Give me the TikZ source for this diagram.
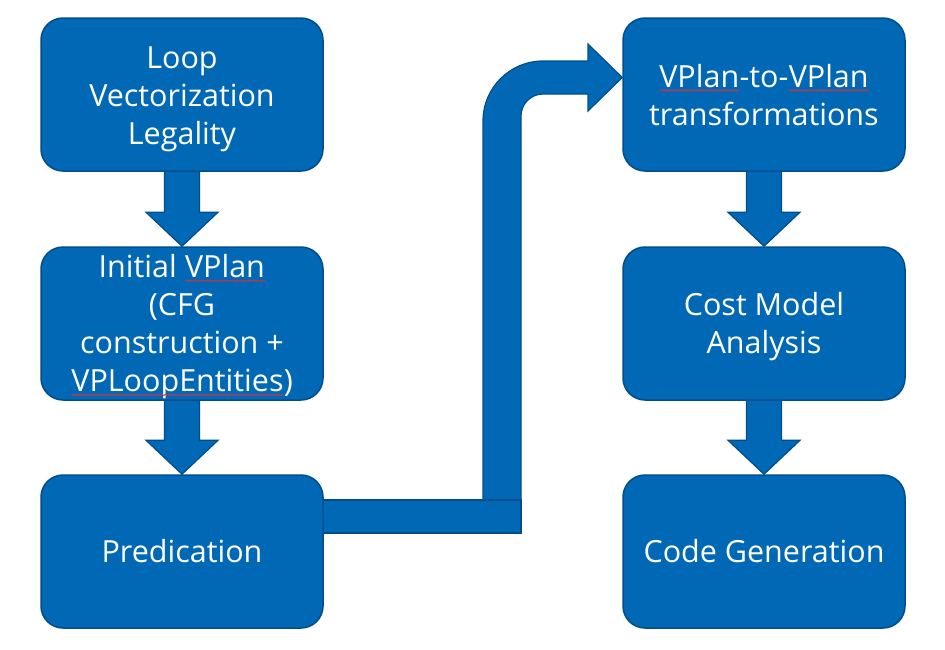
\documentclass[tikz,border=0pt]{standalone}
\usepackage{fontspec}
\setmainfont{Open Sans}
\usetikzlibrary{calc,decorations.pathmorphing,backgrounds}
\definecolor{ifill}{RGB}{0,104,181}
\definecolor{iedge}{RGB}{0,78,140}
\definecolor{squigred}{RGB}{215,50,60}
\tikzset{
 stepbox/.style={draw=iedge, fill=ifill, line width=1.5pt, rounded corners=22pt,
   minimum width=282pt, minimum height=153pt, text=white, align=center,
   font=\fontsize{30.5}{38}\selectfont, inner sep=0pt},
 txt/.style={text=white, align=center, font=\fontsize{30.5}{38}\selectfont, inner sep=0pt,
   draw=none, fill=none},
 blockarrow/.style={draw=iedge, fill=ifill, line width=1.2pt, line join=miter},
 squigword/.style={draw=none, fill=none, minimum width=0pt, minimum height=0pt,
   inner sep=0pt, outer sep=0pt, sharp corners, text=white},
 squigline/.style={draw=squigred, fill=none, sharp corners, line width=0.7pt, decorate,
   decoration={snake, amplitude=0.8pt, segment length=3pt}},
}
\newcommand\squig[1]{\tikz[baseline=(sq.base)]{\node[squigword] (sq) {#1};
  \draw[squigline] ([yshift=-3pt]sq.base west) -- ([yshift=-3pt]sq.base east);}}
\newcommand\blockdown[2]{%
  \draw[blockarrow] ($(#1.south)+(-17.5,2)$) -- ($(#2.north)+(-17.5,34)$) -- ($(#2.north)+(-36,34)$)
    -- (#2.north) -- ($(#2.north)+(36,34)$) -- ($(#2.north)+(17.5,34)$) -- ($(#1.south)+(17.5,2)$) -- cycle;}
\begin{document}
\begin{tikzpicture}[x=1pt,y=1pt]
\useasboundingbox (0,0) rectangle (945,-649);
\node[stepbox, label={[txt,yshift=-4.5pt]center:{Loop\\Vectorization\\Legality}}] (b1) at (182,-94.5) {};
\node[stepbox, label={[txt,yshift=-3.5pt]center:{Initial \squig{VPlan}\\(CFG\\construction +\\\squig{VPLoopEntities})}}] (b2) at (182,-323.5) {};
\node[stepbox] (b3) at (182,-551.5) {Predication};
\node[stepbox, label={[txt,yshift=-0.5pt]center:{\squig{VPlan}-to-\squig{VPlan}\\transformations}}] (b4) at (764,-94.5) {};
\node[stepbox, label={[txt,yshift=-3pt]center:{Cost Model\\Analysis}}] (b5) at (764,-323.5) {};
\node[stepbox] (b6) at (764,-551.5) {Code Generation};
\begin{pgfonlayer}{background}
\fill[white] (0,0) rectangle (945,-649);
\blockdown{b1}{b2}
\blockdown{b2}{b3}
\blockdown{b4}{b5}
\blockdown{b5}{b6}
\coordinate (tip) at ($(b4.west)+(0,17)$);
\draw[blockarrow] (483,-518) -- (483,-121) arc[start angle=180,end angle=90,radius=60]
  -- (588,-61) -- (588,-44) -- (tip) -- (588,-111) -- (588,-94) -- (543,-94)
  arc[start angle=90,end angle=180,radius=22] -- (521,-518) -- cycle;
\draw[blockarrow] ($(b3.east)+(-6,51.5)$) rectangle (521,-533);
\end{pgfonlayer}
\end{tikzpicture}
\end{document}
